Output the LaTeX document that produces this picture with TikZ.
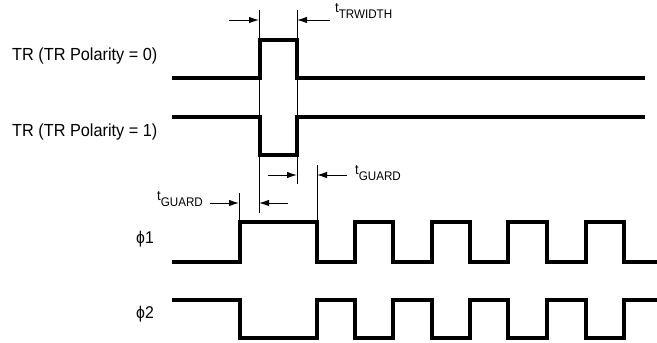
\documentclass[tikz,border=0pt]{standalone}
\usepackage{fontspec}
\setmainfont{Liberation Sans}
\newfontfamily\lblfont[FakeStretch=0.93]{Liberation Sans}
\usetikzlibrary{arrows.meta}
\newcommand{\mytsub}[1]{{\fontsize{14}{14}\selectfont t}\raisebox{-6pt}{\fontsize{12.5}{12.5}\selectfont #1}}
\begin{document}
\begin{tikzpicture}[x=1pt,y=-1pt,
  wave/.style={line width=3.6pt, line join=miter},
  thinline/.style={line width=1pt},
  dimarrow/.style={line width=1pt, -{Latex[length=10pt,width=6.5pt]}},
  lbl/.style={font=\lblfont\fontsize{17.5}{17.5}\selectfont, inner sep=0pt, anchor=west},
  phlbl/.style={font=\lblfont\fontsize{17}{17}\selectfont, inner sep=0pt, anchor=west},
  tlbl/.style={font=\lblfont, inner sep=0pt, anchor=base west},
]
\useasboundingbox (0,0) rectangle (657,343);

% labels
\node[lbl] (tr0) at (12,56) {TR (TR Polarity = 0)};
\node[lbl] (tr1) at (12,132) {TR (TR Polarity = 1)};
\node[phlbl] (p1) at (136,239) {ϕ1};
\node[phlbl] (p2) at (136,314) {ϕ2};
\node[tlbl] (tw) at (335,12) {\mytsub{TRWIDTH}};
\node[tlbl] (tg1) at (157,200) {\mytsub{GUARD}};
\node[tlbl] (tg2) at (355,174) {\mytsub{GUARD}};

% waveforms
\draw[wave] (172,78) -- (260,78) -- (260,40) -- (297,40) -- (297,78) -- (645,78);
\draw[wave] (172,117) -- (260,117) -- (260,155) -- (297,155) -- (297,117) -- (645,117);
\draw[wave] (172,262) -- (240,262) -- (240,222) -- (317,222) -- (317,262)
  -- (355,262) -- (355,222) -- (393,222) -- (393,262)
  -- (432,262) -- (432,222) -- (470,222) -- (470,262)
  -- (508,262) -- (508,222) -- (547,222) -- (547,262)
  -- (586,262) -- (586,222) -- (624,222) -- (624,262) -- (660,262);
\draw[wave] (172,300) -- (240,300) -- (240,338) -- (317,338) -- (317,300)
  -- (355,300) -- (355,338) -- (393,338) -- (393,300)
  -- (432,300) -- (432,338) -- (470,338) -- (470,300)
  -- (508,300) -- (508,338) -- (547,338) -- (547,300)
  -- (586,300) -- (586,338) -- (624,338) -- (624,300) -- (660,300);

% extension lines
\coordinate (v1t) at (259,10);  \coordinate (v1b) at (259,213);
\coordinate (v2t) at (297,10);  \coordinate (v2b) at (297,184);
\coordinate (v3t) at (239,193); \coordinate (v3b) at (239,222);
\coordinate (v4t) at (317,165); \coordinate (v4b) at (317,222);
\draw[thinline] (v1t) -- (v1b);
\draw[thinline] (v2t) -- (v2b);
\draw[thinline] (v3t) -- (v3b);
\draw[thinline] (v4t) -- (v4b);

% dimension arrows
\coordinate (a1s) at (229,20);  \coordinate (a1e) at (259,20);
\coordinate (a2s) at (330,20);  \coordinate (a2e) at (297,20);
\coordinate (a3s) at (268,175); \coordinate (a3e) at (297,175);
\coordinate (a4s) at (347,175); \coordinate (a4e) at (317,175);
\coordinate (a5s) at (210,203); \coordinate (a5e) at (239,203);
\coordinate (a6s) at (288,203); \coordinate (a6e) at (259,203);
\draw[dimarrow] (a1s) -- (a1e);
\draw[dimarrow] (a2s) -- (a2e);
\draw[dimarrow] (a3s) -- (a3e);
\draw[dimarrow] (a4s) -- (a4e);
\draw[dimarrow] (a5s) -- (a5e);
\draw[dimarrow] (a6s) -- (a6e);
\end{tikzpicture}
\end{document}
